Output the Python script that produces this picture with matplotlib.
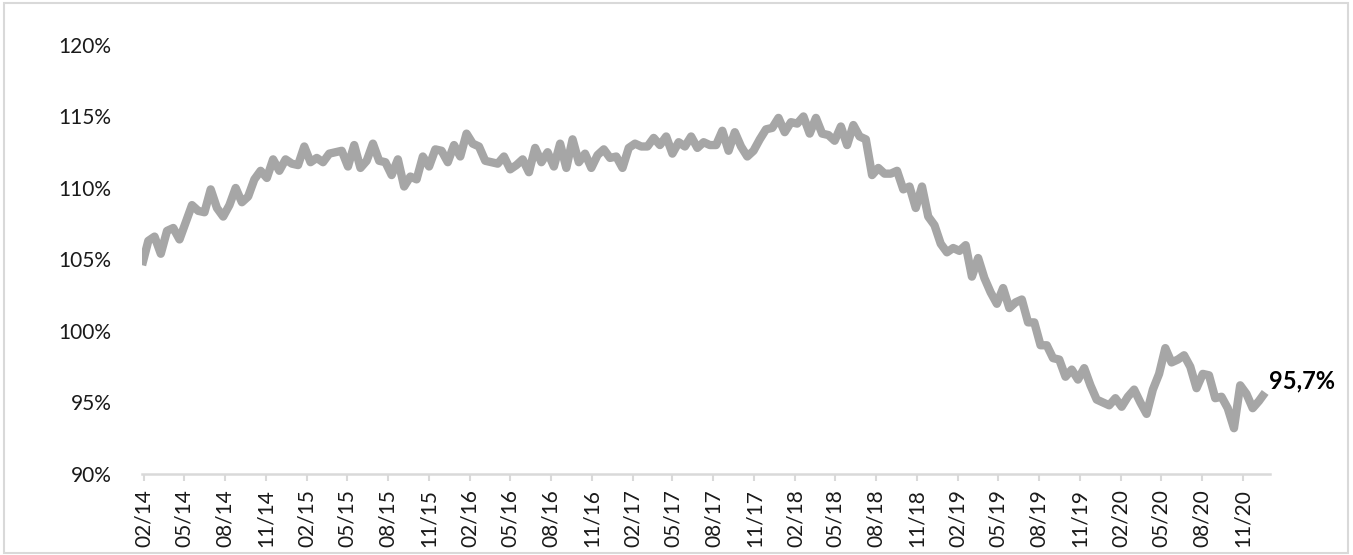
import numpy as np
import pandas as pd
import matplotlib
matplotlib.use('Agg')
import matplotlib.pyplot as plt
import matplotlib.dates as mdates
from matplotlib.ticker import FuncFormatter
from matplotlib.patches import Rectangle

# biweekly values (%)
y2014 = [104.6, 106.3, 106.6, 105.4, 107.0, 107.2, 106.4, 107.6, 108.8, 108.4, 108.3, 109.9, 108.6,
         108.0, 108.8, 110.0, 109.0, 109.4, 110.6, 111.2, 110.7, 112.0, 111.2, 112.0, 111.7, 111.6]
y2015 = [112.9, 111.8, 112.1, 111.8, 112.4, 112.5, 112.6, 111.5, 113.0, 111.4, 111.9, 113.1, 111.9,
         111.8, 110.9, 112.0, 110.1, 110.8, 110.6, 112.2, 111.5, 112.7, 112.6, 111.8, 113.0, 112.2]
y2016 = [113.8, 113.1, 112.9, 111.9, 111.8, 111.7, 112.2, 111.3, 111.6, 112.0, 111.1, 112.8, 111.8,
         112.5, 111.5, 113.1, 111.4, 113.4, 111.8, 112.4, 111.4, 112.3, 112.7, 112.1, 112.2, 111.4]
y2017 = [112.8, 113.1, 112.9, 112.9, 113.5, 113.0, 113.6, 112.4, 113.2, 112.9, 113.6, 112.8, 113.2,
         113.0, 113.0, 114.0, 112.6, 113.9, 112.9, 112.2, 112.6, 113.4, 114.1, 114.2, 114.9, 113.9]
y2018 = [114.6, 114.5, 115.0, 113.8, 114.9, 113.8, 113.7, 113.3, 114.3, 113.0, 114.4, 113.6, 113.4,
         110.9, 111.4, 111.0, 111.0, 111.2, 109.9, 110.1, 108.6, 110.1, 108.0, 107.4, 106.1, 105.5]
y2019 = [105.8, 105.6, 106.0, 103.8, 105.1, 103.7, 102.7, 101.9, 103.0, 101.6, 102.0, 102.2, 100.6,
         100.6, 99.0, 99.0, 98.1, 98.0, 96.8, 97.3, 96.6, 97.4, 96.2, 95.2, 95.0, 94.8]
y2020 = [95.3, 94.7, 95.4, 95.9, 95.0, 94.2, 95.9, 97.0, 98.8, 97.8, 98.0, 98.3, 97.5,
         96.0, 97.0, 96.9, 95.3, 95.4, 94.6, 93.2, 96.2, 95.6, 94.6, 95.1, 95.7]

values = y2014 + y2015 + y2016 + y2017 + y2018 + y2019 + y2020
dates = pd.date_range('2014-01-27', periods=len(values), freq='14D')
ticks = pd.date_range('2014-02-01', '2020-11-01', freq='3MS')

line_color = '#a6a6a6'
axis_color = '#d9d9d9'
font = 'Lato'

fig = plt.figure(figsize=(13.53, 5.55), dpi=100)
ax = fig.add_axes([0.105, 0.146, 0.8337, 0.773])

ax.plot(dates, values, color=line_color, lw=6, solid_joinstyle='round', solid_capstyle='butt')

ax.set_ylim(90, 120)
ax.set_yticks(np.arange(90, 121, 5))
ax.yaxis.set_major_formatter(FuncFormatter(lambda v, p: '%d%%' % v))
ax.set_xlim(dates[0], pd.Timestamp('2021-01-01'))
ax.set_xticks(ticks)
ax.xaxis.set_major_formatter(mdates.DateFormatter('%m/%y'))

for s in ['top', 'right', 'left']:
    ax.spines[s].set_visible(False)
ax.spines['bottom'].set_color(axis_color)
ax.spines['bottom'].set_linewidth(1.8)
ax.tick_params(axis='y', length=0, pad=22, labelsize=15, labelcolor='#1a1a1a')
ax.tick_params(axis='x', length=5, width=1.5, color=axis_color, direction='out', pad=6,
               labelsize=15, labelrotation=90, labelcolor='#1a1a1a')
for lab in ax.get_xticklabels() + ax.get_yticklabels():
    lab.set_family(font)

last = values[-1]
ax.annotate(('%.1f' % last).replace('.', ',') + '%', xy=(dates[-1], last),
            xytext=(3, 8), textcoords='offset points', ha='left', va='center',
            fontsize=17, fontweight='bold', family=font, color='black', annotation_clip=False)

fig.patches.append(Rectangle((0.003, 0.004), 0.993, 0.99, transform=fig.transFigure,
                             fill=False, edgecolor=axis_color, lw=1.5))

fig.savefig('out.png', dpi=100)
